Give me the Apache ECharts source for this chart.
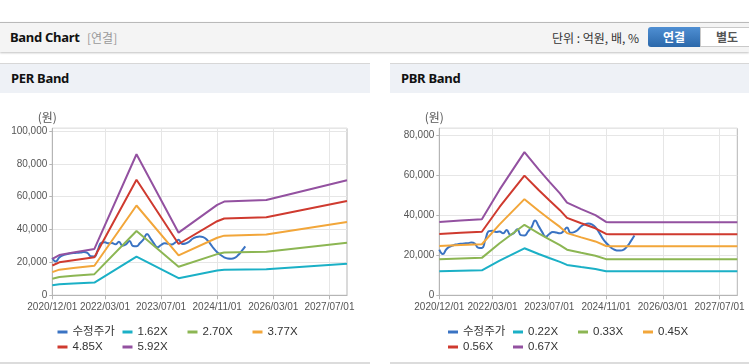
<!DOCTYPE html>
<html><head><meta charset="utf-8">
<script src="https://cdn.jsdelivr.net/npm/echarts@6/dist/echarts.min.js"></script>
<style>
html,body{margin:0;padding:0;background:#fff;width:749px;height:364px;overflow:hidden;font-family:'Noto Sans CJK KR','Noto Sans',sans-serif;}
.abs{position:absolute;}
#topbar{left:0;top:22px;width:749px;height:29px;background:#f4f4f4;border-top:1px solid #b9b9b9;box-shadow:0 1px 2px rgba(0,0,0,0.25);}
#title{left:10px;top:0;line-height:29px;font-size:13px;font-weight:bold;color:#111;font-family:'Noto Sans','Noto Sans CJK KR',sans-serif;letter-spacing:-0.3px;}
#sub{left:87px;top:0;line-height:29px;font-size:12px;color:#999;}
#unit{left:552px;top:0;line-height:29px;font-size:12px;color:#333;}
#btn1{left:648px;top:4px;width:52px;height:20px;line-height:20px;text-align:center;color:#fff;font-weight:bold;font-size:12px;background:linear-gradient(#4f8fd3,#2b68aa);border-radius:3px 0 0 3px;}
#btn2{left:700px;top:4px;width:52px;height:18px;line-height:18px;text-align:center;color:#555;font-weight:bold;font-size:12px;background:#fff;border:1px solid #c9c9c9;}
.ph{top:63px;height:29px;background:#eef1f6;border-top:1px solid #d7d7d7;}
.ph span{position:absolute;left:11px;top:0;line-height:29px;font-size:13px;font-weight:bold;color:#111;font-family:'Noto Sans',sans-serif;letter-spacing:-0.3px;}
.pb{top:362px;height:2px;background:#dcdcdc;}
</style></head>
<body>
<div id="topbar" class="abs">
  <div id="title" class="abs">Band Chart</div>
  <div id="sub" class="abs">[연결]</div>
  <div id="unit" class="abs">단위 : 억원, 배, %</div>
  <div id="btn1" class="abs">연결</div>
  <div id="btn2" class="abs">별도</div>
</div>
<div class="abs ph" style="left:0;width:370px;"><span>PER Band</span></div>
<div class="abs ph" style="left:390px;width:359px;"><span>PBR Band</span></div>
<div id="perChart" class="abs" style="left:0;top:92px;width:370px;height:270px;"></div>
<div id="pbrChart" class="abs" style="left:390px;top:92px;width:359px;height:270px;"></div>
<div class="abs pb" style="left:0;width:370px;"></div>
<div class="abs pb" style="left:390px;width:359px;"></div>
<script>
// monthly categories
const CATEGORIES = [
 '2020/12/01',
 '2021/01/01','2021/02/01','2021/03/01','2021/04/01','2021/05/01','2021/06/01','2021/07/01','2021/08/01','2021/09/01','2021/10/01','2021/11/01','2021/12/01',
 '2022/01/01','2022/02/01','2022/03/01','2022/04/01','2022/05/01','2022/06/01','2022/07/01','2022/08/01','2022/09/01','2022/10/01','2022/11/01','2022/12/01',
 '2023/01/01','2023/02/01','2023/03/01','2023/04/01','2023/05/01','2023/06/01','2023/07/01','2023/08/01','2023/09/01','2023/10/01','2023/11/01','2023/12/01',
 '2024/01/01','2024/02/01','2024/03/01','2024/04/01','2024/05/01','2024/06/01','2024/07/01','2024/08/01','2024/09/01','2024/10/01','2024/11/01','2024/12/01',
 '2025/01/01','2025/02/01','2025/03/01','2025/04/01','2025/05/01','2025/06/01','2025/07/01','2025/08/01','2025/09/01','2025/10/01','2025/11/01','2025/12/01',
 '2026/01/01','2026/02/01','2026/03/01','2026/04/01','2026/05/01','2026/06/01','2026/07/01','2026/08/01','2026/09/01','2026/10/01','2026/11/01','2026/12/01',
 '2027/01/01','2027/02/01','2027/03/01','2027/04/01','2027/05/01','2027/06/01','2027/07/01','2027/08/01','2027/09/01','2027/10/01','2027/11/01','2027/12/01'
];
const TICK_LABELS = ['2020/12/01','2022/03/01','2023/07/01','2024/11/01','2026/03/01','2027/07/01'];

// 수정주가 (monthly, from 2020/12)
const PRICE = [22800,20600,23000,24300,25000,25400,25700,25900,26000,26300,25800,23700,23600,
 27800,32000,32200,31600,31800,31000,32600,30200,31000,33000,30000,29800,
 31800,34000,37300,34500,31500,29200,30600,31600,31300,30900,32000,33800,
 31200,31500,32600,34400,35400,35800,35400,34000,31500,28500,26200,24500,
 23100,22400,22300,22800,24500,27000,29800];

// PER band
const PER_NAMES = ['1.62X','2.70X','3.77X','4.85X','5.92X'];
const PER_DATES = ['2020/12/01','2021/02/01','2021/06/01','2021/12/01','2022/12/01','2023/12/01','2024/11/01','2025/01/01','2026/01/01','2027/12/01'];
const PER_162 = [6050,6700,7110,7720,23480,10420,15050,15600,15870,19150];
const PER_270 = [10080,11170,11860,12860,39130,17380,25080,26000,26450,31930];
const PER_377 = [14070,15600,16560,17960,54640,24260,35020,36300,36930,44580];
const PER_485 = [18110,20070,21300,23100,70300,31210,45060,46700,47520,57350];
const PER_592 = [22100,24500,26000,28200,85800,38100,55000,57000,58000,70000];

// PBR band
const PBR_NAMES = ['0.22X','0.33X','0.45X','0.56X','0.67X'];
const PBR_DATES = ['2020/12/01','2021/06/01','2021/12/01','2022/05/01','2022/12/01','2023/04/01','2023/07/01','2023/10/01','2023/12/01','2024/04/01','2024/08/01','2024/11/01','2024/12/01','2027/12/01'];
const PBR_022 = [12020,12250,12450,17310,23450,20620,18620,16680,15170,14120,13140,12020,11950,11950];
const PBR_033 = [18030,18370,18670,25950,35160,30930,27920,25020,22750,21180,19700,18030,17930,17930];
const PBR_045 = [24580,25050,25450,35390,47950,42180,38080,34120,31030,28880,26860,24580,24450,24450];
const PBR_056 = [30590,31180,31680,44050,59680,52490,47390,42460,38610,35940,33430,30590,30420,30420];
const PBR_067 = [36600,37300,37900,52700,71400,62800,56700,50800,46200,43000,40000,36600,36400,36400];

const PRICE_NAME = '수정주가';
const COLORS = ['#3a73c3','#1bb0c6','#8cb653','#f2a63a','#cf3a2f','#9351a0'];
const NUM_FONT = "'Liberation Sans',Arial,'Noto Sans CJK KR',sans-serif";

function pairs(dates, vals){ return dates.map((d,i)=>[d, vals[i]]); }
function lineSeries(name, data, color, smooth){
  return {name:name, type:'line', data:data, symbol:'none', smooth:smooth, showSymbol:false,
    lineStyle:{width:2,color:color}, itemStyle:{color:color}, emphasis:{disabled:true}};
}
const isTick = (idx, val) => TICK_LABELS.indexOf(val) >= 0;

function build(gridLeft, gridWidth, yMax, bandNames, bandDates, bands, legendLeft){
  const names = [PRICE_NAME].concat(bandNames);
  const legendCommon = {icon:'rect', itemWidth:10, itemHeight:3, itemGap:5, selectedMode:false, left:legendLeft,
    textStyle:{width:45, fontSize:11.5, lineHeight:14, color:'#333', fontFamily:NUM_FONT}};
  const series = [lineSeries(PRICE_NAME, PRICE, COLORS[0], 0.5)];
  bands.forEach((b,i)=>series.push(lineSeries(bandNames[i], pairs(bandDates, b), COLORS[i+1], false)));
  return {
    animation:false,
    grid:{left:gridLeft, top:36.3, width:gridWidth, height:167, show:true, borderColor:'#b5b5b5', borderWidth:1, backgroundColor:'transparent'},
    legend:[
      Object.assign({data:names.slice(0,4), top:228}, legendCommon),
      Object.assign({data:names.slice(4), top:243}, legendCommon)
    ],
    xAxis:{type:'category', data:CATEGORIES, boundaryGap:false,
      axisLine:{lineStyle:{color:'#b5b5b5'}},
      axisTick:{show:true, interval:isTick, length:4, lineStyle:{color:'#b5b5b5'}},
      axisLabel:{interval:isTick, color:'#555', fontSize:10, margin:7, fontFamily:NUM_FONT,
        showMinLabel:true, showMaxLabel:true, hideOverlap:false},
      splitLine:{show:true, interval:isTick, lineStyle:{color:'#e6e6e6'}}},
    yAxis:{type:'value', min:0, max:yMax, interval:20000,
      name:'(원)', nameLocation:'end', nameGap:5,
      nameTextStyle:{color:'#555', fontSize:12, align:'center', padding:[0,10,0,0], fontFamily:"'Noto Sans CJK KR',sans-serif"},
      axisLine:{show:true, lineStyle:{color:'#b5b5b5'}},
      axisTick:{show:true, length:3, lineStyle:{color:'#b5b5b5'}},
      axisLabel:{color:'#555', fontSize:10, margin:5, showMaxLabel:false, fontFamily:NUM_FONT},
      splitLine:{show:true, lineStyle:{color:'#e6e6e6'}}},
    series:series
  };
}

const per = echarts.init(document.getElementById('perChart'));
per.setOption(build(52.3, 294.7, 101600, PER_NAMES, PER_DATES, [PER_162,PER_270,PER_377,PER_485,PER_592], 52.5));
const pbr = echarts.init(document.getElementById('pbrChart'));
pbr.setOption(build(49.3, 298, 83300, PBR_NAMES, PBR_DATES, [PBR_022,PBR_033,PBR_045,PBR_056,PBR_067], 53));
</script>
</body></html>
